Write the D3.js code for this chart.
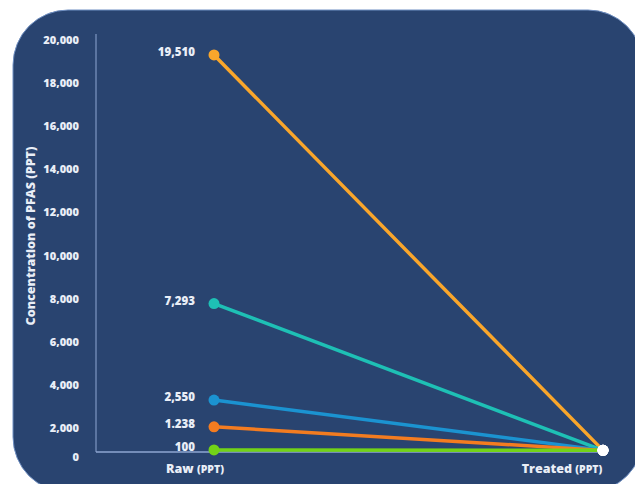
<!DOCTYPE html>
<html>
<head>
<meta charset="utf-8">
<script src="https://cdn.jsdelivr.net/npm/d3@7"></script>
<style>
  html, body { margin: 0; padding: 0; background: #fff; }
  svg { display: block; font-family: 'Open Sans', 'Noto Sans', sans-serif; }
</style>
</head>
<body>
<svg id="chart" width="635" height="484"></svg>
<script>
// values
const categories    = ['Raw', 'Treated'];
const rawValues     = [19510, 7293, 2550, 1238, 100];
const rawLabels     = ['19,510', '7,293', '2,550', '1.238', '100'];
const treatedValues = [80, 80, 80, 80, 80];
const seriesColors  = ['#f9a62b', '#1ec0b5', '#1b93d1', '#f47c20', '#72d317'];
const yTicks        = [0, 2000, 4000, 6000, 8000, 10000, 12000, 14000, 16000, 18000, 20000];

const TXT = '#e9eef7';
const svg = d3.select('#chart');

// rounded panel; it runs past the right and bottom edge of the window
svg.append('rect')
  .attr('x', 13).attr('y', 10).attr('width', 630).attr('height', 482)
  .attr('rx', 55).attr('ry', 55)
  .attr('fill', '#294470')
  .attr('stroke', '#6f8fc2').attr('stroke-width', 1);

const x = d3.scalePoint().domain(categories).range([214, 603]);
// points sit on the axis line at 0
const y = d3.scaleLinear().domain([0, 20000]).range([452, 45]);
// tick labels in the source are spaced on their own grid, 0 sits just below the axis
const yTick = d3.scaleLinear().domain([0, 2000, 20000]).range([457, 428, 40]);

// axis lines
svg.append('line')
  .attr('x1', 96).attr('x2', 96).attr('y1', 34).attr('y2', y(0))
  .attr('stroke', '#8ea6d2').attr('stroke-width', 1);
svg.append('line')
  .attr('x1', 96).attr('x2', x('Treated')).attr('y1', y(0)).attr('y2', y(0))
  .attr('stroke', '#8ea6d2').attr('stroke-width', 1.5);

const gy = svg.append('g')
  .attr('transform', 'translate(96,0)')
  .call(d3.axisLeft(yTick).tickValues(yTicks).tickSize(0).tickPadding(17)
    .tickFormat(d3.format(',')));
gy.select('.domain').remove();
gy.selectAll('text')
  .attr('fill', TXT).attr('font-size', 11).attr('font-weight', 800)
  .attr('font-family', "'Open Sans', sans-serif");

// y title
svg.append('text')
  .attr('transform', 'translate(35,236) rotate(-90)')
  .attr('text-anchor', 'middle')
  .attr('fill', TXT).attr('font-size', 12.5).attr('font-weight', 800)
  .text('Concentration of PFAS (PPT)');

// category labels under the axis
const catShift = { Raw: -19, Treated: -41 };
const cat = svg.selectAll('text.cat').data(categories).join('text')
  .attr('class', 'cat')
  .attr('x', d => x(d) + catShift[d]).attr('y', 473)
  .attr('text-anchor', 'middle')
  .attr('fill', TXT).attr('font-size', 12.5).attr('font-weight', 800);
cat.append('tspan').text(d => d + ' ');
cat.append('tspan').attr('font-size', 10.5).text('(PPT)');

// slope lines
const rows = rawValues.map((v, i) => ({ raw: v, treated: treatedValues[i], label: rawLabels[i], color: seriesColors[i] }));

svg.selectAll('line.s').data(rows).join('line')
  .attr('class', 's')
  .attr('x1', x('Raw')).attr('y1', d => y(d.raw))
  .attr('x2', x('Treated')).attr('y2', d => y(d.treated))
  .attr('stroke', d => d.color).attr('stroke-width', 3.5)
  .attr('stroke-linecap', 'round');

svg.selectAll('circle.raw').data(rows).join('circle')
  .attr('class', 'raw')
  .attr('cx', x('Raw')).attr('cy', d => y(d.raw)).attr('r', 5.5)
  .attr('fill', d => d.color);

svg.selectAll('circle.tr').data(rows).join('circle')
  .attr('class', 'tr')
  .attr('cx', x('Treated')).attr('cy', d => y(d.treated)).attr('r', 5.5)
  .attr('fill', '#ffffff');

svg.selectAll('text.val').data(rows).join('text')
  .attr('class', 'val')
  .attr('x', x('Raw') - 19).attr('y', d => y(d.raw) + 1)
  .attr('text-anchor', 'end')
  .attr('fill', TXT).attr('font-size', 11.5).attr('font-weight', 800)
  .text(d => d.label);
</script>
</body>
</html>
